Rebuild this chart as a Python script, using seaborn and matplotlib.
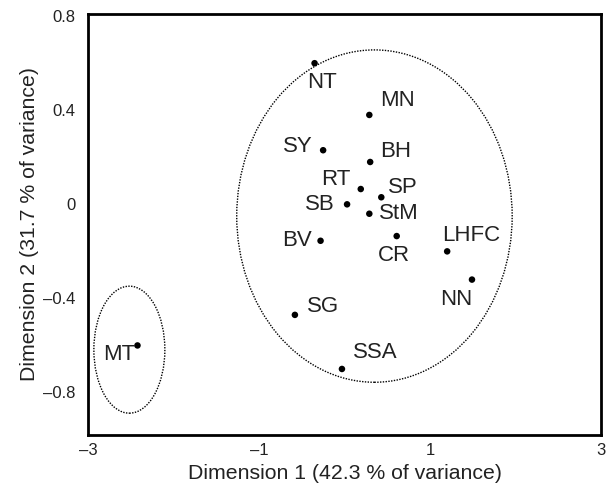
import numpy as np
import pandas as pd
import matplotlib
matplotlib.use('Agg')
import matplotlib.pyplot as plt
from matplotlib.patches import Ellipse
import seaborn as sns

# data
sites = ['NT', 'MN', 'SY', 'BH', 'RT', 'SP', 'SB', 'StM', 'BV', 'CR',
         'LHFC', 'NN', 'SG', 'SSA', 'MT']
dim1 = [-0.35, 0.29, -0.25, 0.30, 0.19, 0.43, 0.03, 0.29, -0.28, 0.61,
        1.20, 1.49, -0.58, -0.03, -2.42]
dim2 = [0.60, 0.38, 0.23, 0.18, 0.065, 0.03, 0.0, -0.04, -0.155, -0.135,
        -0.20, -0.32, -0.47, -0.70, -0.60]

xticks = [-3, -1, 1, 3]
xticklabels = ['\u20133', '\u20131', '1', '3']
yticks = [0.8, 0.4, 0, -0.4, -0.8]
yticklabels = ['0.8', '0.4', '0', '\u20130.4', '\u20130.8']

df = pd.DataFrame({'site': sites, 'dim1': dim1, 'dim2': dim2})

# label placement (pixels from the dot, horizontal alignment)
offsets = {
    'NT': (7, -19, 'center'), 'MN': (11, 14, 'left'), 'SY': (-10, 4, 'right'),
    'BH': (10, 10, 'left'), 'RT': (-10, 10, 'right'), 'SP': (7, 10, 'left'),
    'SB': (-12, 0, 'right'), 'StM': (10, 0, 'left'), 'BV': (-9, 0, 'right'),
    'CR': (-3, -19, 'center'), 'LHFC': (-5, 16, 'left'), 'NN': (-16, -20, 'center'),
    'SG': (12, 8, 'left'), 'SSA': (11, 16, 'left'), 'MT': (-18, -9, 'center'),
}

sns.set_style('white')
plt.rcParams['font.family'] = ['Liberation Sans', 'DejaVu Sans']

fig = plt.figure(figsize=(6.06, 4.93), dpi=100)
ax = fig.add_axes([0.145, 0.118, 0.847, 0.854])

sns.scatterplot(data=df, x='dim1', y='dim2', color='black', s=22,
                edgecolor='none', ax=ax, legend=False)

for _, r in df.iterrows():
    dx, dy, ha = offsets[r['site']]
    ax.annotate(r['site'], (r['dim1'], r['dim2']), xytext=(dx, dy),
                textcoords='offset pixels', ha=ha, va='center',
                fontsize=16, color='#222222')

# group ellipses
ax.add_patch(Ellipse((0.35, -0.05), 3.22, 1.413, fill=False,
                     linestyle=(0, (1, 1)), linewidth=1.0, edgecolor='black'))
ax.add_patch(Ellipse((-2.515, -0.618), 0.83, 0.54, fill=False,
                     linestyle=(0, (1, 1)), linewidth=1.0, edgecolor='black'))

ax.set_xlim(-3, 3)
ax.set_ylim(-0.98, 0.81)
ax.set_xticks(xticks)
ax.set_xticklabels(xticklabels)
ax.set_yticks(yticks)
ax.set_yticklabels(yticklabels)
ax.tick_params(length=0, labelsize=12, pad=6, colors='#222222')
ax.tick_params(axis='y', pad=9)
for s in ax.spines.values():
    s.set_color('black')
    s.set_linewidth(2)

ax.set_xlabel('Dimension 1 (42.3 % of variance)', fontsize=15.3, labelpad=4,
              color='#222222')
ax.set_ylabel('Dimension 2 (31.7 % of variance)', fontsize=15.3, labelpad=3,
              color='#222222')

fig.savefig('out.png', dpi=100)
